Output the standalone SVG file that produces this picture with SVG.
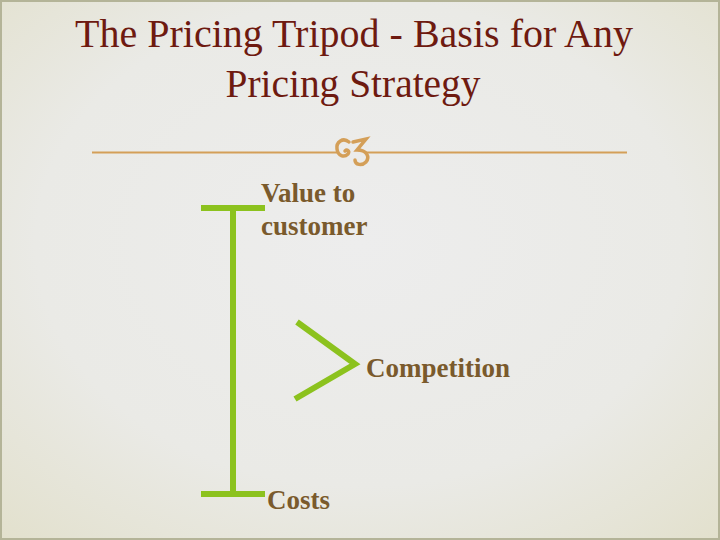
<svg xmlns="http://www.w3.org/2000/svg" width="720" height="540" viewBox="0 0 720 540">
<defs>
<radialGradient id="bg" cx="50%" cy="45%" r="75%">
<stop offset="0" stop-color="#EDEDED"/>
<stop offset="0.6" stop-color="#EAEAE6"/>
<stop offset="1" stop-color="#E2E0CC"/>
</radialGradient>
<style>
.title{font-family:"Liberation Serif",serif;font-size:40px;fill:#6E1A10}
.lbl{font-family:"Liberation Serif",serif;font-weight:bold;font-size:27px;fill:#7A5A2C}
.g{stroke:#8CC21E;stroke-width:6;fill:none}
.orn{stroke:#D49F58;fill:none;stroke-linecap:round}
</style>
</defs>
<rect width="720" height="540" fill="url(#bg)"/>
<rect x="1" y="1" width="718" height="538" fill="none" stroke="#B4B498" stroke-width="2"/>
<g id="title">
<text class="title" x="354" y="47" text-anchor="middle" textLength="558" lengthAdjust="spacingAndGlyphs">The Pricing Tripod - Basis for Any</text>
<text class="title" x="353" y="97" text-anchor="middle" textLength="255" lengthAdjust="spacingAndGlyphs">Pricing Strategy</text>
</g>
<g id="divider">
<line x1="92" y1="152.5" x2="338" y2="152.5" stroke="#D49F58" stroke-width="2"/>
<line x1="366" y1="152.5" x2="627" y2="152.5" stroke="#D49F58" stroke-width="2"/>
<path class="orn" stroke-width="3.5" d="M349 142 C343 137 336 142 337 149 C338 156 344 158 348 154 C350 151 347 149 345 151"/>
<path class="orn" stroke-width="3.5" d="M353 142 L366 139 L357 150 C367 150 370 157 366 162 C362 166 355 165 355 160"/>
</g>
<g id="connectors">
<path class="g" d="M201 208 H265 M233 208 V494 M201 494 H265"/>
<path class="g" d="M297 322 L355 364 L295 399"/>
</g>
<g id="value"><text class="lbl" x="261" y="202">Value to</text><text class="lbl" x="261" y="235">customer</text></g>
<g id="competition"><text class="lbl" x="366" y="377">Competition</text></g>
<g id="costs"><text class="lbl" x="267" y="509">Costs</text></g>
</svg>
